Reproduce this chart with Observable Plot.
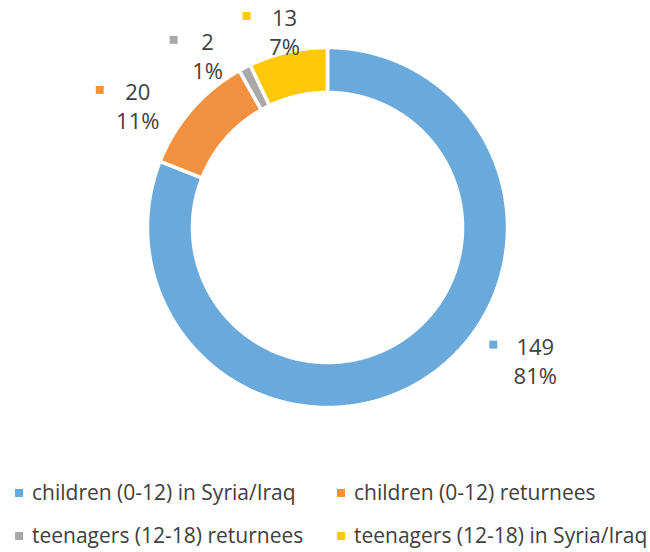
<!DOCTYPE html>
<html>
<head>
<meta charset="utf-8">
<script src="https://cdn.jsdelivr.net/npm/d3@7"></script>
<script src="https://cdn.jsdelivr.net/npm/@observablehq/plot@0.6"></script>
<style>
  html, body { margin: 0; padding: 0; background: #fff; }
  #wrap { position: relative; width: 650px; height: 552px; font-family: "Open Sans", sans-serif; color: #404040; overflow: hidden; }
  .leg { position: absolute; font-size: 21px; white-space: nowrap; line-height: 24px; }
  .leg i { position: absolute; width: 8px; height: 8px; left: -17px; top: 9px; }
</style>
</head>
<body>
<div id="wrap"><div id="chart"></div></div>
<script>
// ---- data ----
const categories = ["children (0-12) in Syria/Iraq", "children (0-12) returnees", "teenagers (12-18) returnees", "teenagers (12-18) in Syria/Iraq"];
const counts = [149, 20, 2, 13];
const colors = ["#6AA9DB", "#F2913F", "#A9A9A9", "#FFC808"];

// ---- layout constants ----
const W = 650, H = 460;
const cx = 327, cy = 227;
const outerR = 180, innerR = 135, labelR = 204;
const labelNudge = [[93, -34], [-36, 14], [-26, 11], [2, 5]];
const legendPos = [[32, 480], [354, 480], [32, 523], [354, 523]];

const data = categories.map((c, i) => ({category: c, count: counts[i]}));
const total = d3.sum(counts);
const arcs = d3.pie().sort(null).value(d => d.count)(data);

// polygon points for each slice (angle 0 at 12 o'clock, clockwise)
const polar = (r, a) => [r * Math.sin(a), -r * Math.cos(a)];
const rows = [];
arcs.forEach(a => {
  const n = Math.max(4, Math.ceil((a.endAngle - a.startAngle) / 0.01));
  for (let k = 0; k <= n; k++) {
    const t = a.startAngle + (a.endAngle - a.startAngle) * k / n;
    const [x, y] = polar(outerR, t);
    rows.push({category: a.data.category, x, y});
  }
  for (let k = n; k >= 0; k--) {
    const t = a.startAngle + (a.endAngle - a.startAngle) * k / n;
    const [x, y] = polar(innerR, t);
    rows.push({category: a.data.category, x, y});
  }
});

const fmtPct = d3.format(".0%");
const labels = arcs.map((a, i) => {
  const mid = (a.startAngle + a.endAngle) / 2;
  const [x, y] = polar(labelR, mid);
  const value = String(a.data.count);
  return {
    category: a.data.category,
    x: x + labelNudge[i][0],
    y: y + labelNudge[i][1],
    value,
    pct: fmtPct(a.data.count / total),
    sx: x + labelNudge[i][0] - (value.length * 4 + 30)
  };
});

const chart = Plot.plot({
  width: W, height: H,
  margin: 0,
  x: {domain: [-cx, W - cx], range: [0, W], axis: null},
  y: {domain: [-cy, H - cy], range: [0, H], axis: null},
  color: {domain: categories, range: colors},
  style: {fontFamily: "'Open Sans', sans-serif", background: "#fff"},
  marks: [
    Plot.line(rows, {x: "x", y: "y", z: "category", fill: "category", stroke: "white", strokeWidth: 3.5, curve: "linear-closed"}),
    Plot.dot(labels, {x: "sx", y: "y", dy: -17.5, symbol: "square", r: 4.5, fill: "category", stroke: null}),
    Plot.text(labels, {x: "x", y: "y", dy: -14.5, text: "value", fontSize: 22, fill: "#404040", textAnchor: "middle"}),
    Plot.text(labels, {x: "x", y: "y", dy: 14.5, text: "pct", fontSize: 22, fill: "#404040", textAnchor: "middle"})
  ]
});
document.getElementById("chart").appendChild(chart);

const wrap = document.getElementById("wrap");
categories.forEach((c, i) => {
  const d = document.createElement("div");
  d.className = "leg";
  d.style.left = legendPos[i][0] + "px";
  d.style.top = legendPos[i][1] + "px";
  const sw = document.createElement("i");
  sw.style.background = colors[i];
  d.appendChild(sw);
  d.appendChild(document.createTextNode(c));
  wrap.appendChild(d);
});
</script>
</body>
</html>
